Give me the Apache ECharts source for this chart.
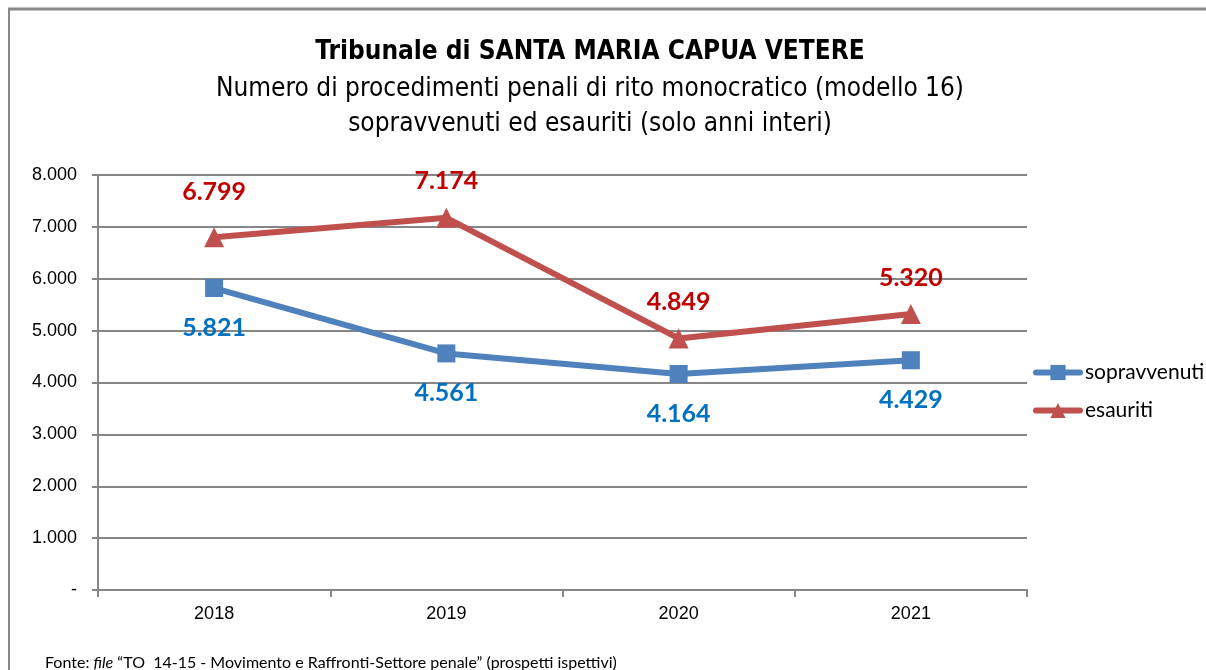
<!DOCTYPE html>
<html>
<head>
<meta charset="utf-8">
<script src="https://cdn.jsdelivr.net/npm/echarts@6/dist/echarts.min.js"></script>
<style>
	html, body { margin: 0; padding: 0; background: #fff; }
	#chart { width: 1206px; height: 670px; }
</style>
</head>
<body>
<div id="chart"></div>
<script>
var years = ['2018', '2019', '2020', '2021'];
var sopravvenuti = [5821, 4561, 4164, 4429];
var esauriti = [6799, 7174, 4849, 5320];
var yTicks = [0, 1000, 2000, 3000, 4000, 5000, 6000, 7000, 8000];

function fmt(v) {
	if (v == 0) {
		return '-';
	}
	return String(v).replace(/\B(?=(\d{3})+(?!\d))/g, '.');
}

var cond = "'DejaVu Sans Condensed', 'Liberation Sans', sans-serif";
var cal = "Lato, 'Open Sans', sans-serif";
var arial = "'Liberation Sans', Arial, sans-serif";
var myChart = echarts.init(document.getElementById('chart'));

var option = {
	backgroundColor: '#fff',
	animation: false,
	title: [{
		text: 'Tribunale di SANTA MARIA CAPUA VETERE',
		left: 585,
		textAlign: 'center',
		top: 34,
		textStyle: { fontFamily: cond, fontSize: 26, fontWeight: 'bold', color: '#000' }
	}, {
		text: 'Numero di procedimenti penali di rito monocratico (modello 16)\nsopravvenuti ed esauriti (solo anni interi)',
		left: 585,
		textAlign: 'center',
		top: 67,
		textStyle: { fontFamily: cond, fontSize: 26, fontWeight: 'normal', color: '#000', lineHeight: 35 }
	}, {
		text: '{n|Fonte: }{i|file}{n| \u201CTO  14-15 - Movimento e Raffronti-Settore penale\u201D (prospetti ispettivi)}',
		left: 40,
		top: 650,
		textStyle: {
			rich: {
				n: { fontFamily: cal, fontSize: 16, fontWeight: 'normal', color: '#000' },
				i: { fontFamily: cal, fontSize: 16, fontWeight: 'normal', fontStyle: 'italic', color: '#000' }
			}
		}
	}],
	graphic: [{
		type: 'line',
		shape: { x1: 8, y1: 9, x2: 1206, y2: 9 },
		style: { stroke: '#888', lineWidth: 3 }
	}, {
		type: 'line',
		shape: { x1: 9, y1: 8, x2: 9, y2: 670 },
		style: { stroke: '#888', lineWidth: 2 }
	}],
	legend: {
		orient: 'vertical',
		left: 1028,
		top: 357,
		itemWidth: 44,
		itemHeight: 19,
		itemGap: 17,
		lineStyle: { width: 6, cap: 'round' },
		textStyle: { fontFamily: cal, fontSize: 21, color: '#000' },
		data: ['sopravvenuti', 'esauriti']
	},
	grid: {
		left: 98,
		right: 179,
		top: 175,
		bottom: 80
	},
	xAxis: {
		type: 'category',
		data: years,
		axisLine: { lineStyle: { color: '#868686', width: 2 } },
		axisTick: { show: true, length: 7, lineStyle: { color: '#868686', width: 2 } },
		axisLabel: { margin: 15, fontFamily: arial, fontSize: 18, color: '#000' }
	},
	yAxis: {
		type: 'value',
		min: 0,
		max: 8000,
		interval: 1000,
		axisLine: { show: true, lineStyle: { color: '#868686', width: 2 } },
		axisTick: { show: true, length: 6, lineStyle: { color: '#868686', width: 2 } },
		splitLine: { lineStyle: { color: '#868686', width: 2 } },
		axisLabel: {
			margin: 21,
			fontFamily: arial,
			fontSize: 18,
			color: '#000',
			formatter: function (v) {
				return yTicks.indexOf(v) >= 0 ? fmt(v) : '';
			}
		}
	},
	series: [{
		name: 'sopravvenuti',
		type: 'line',
		data: sopravvenuti,
		symbol: 'rect',
		symbolSize: 18,
		itemStyle: { color: '#4F81BD' },
		lineStyle: { color: '#4F81BD', width: 6 },
		label: {
			show: true,
			position: 'bottom',
			distance: 18,
			color: '#0070C0',
			fontFamily: cal,
			fontSize: 25,
			fontWeight: 'bold',
			formatter: function (p) { return fmt(p.value); }
		}
	}, {
		name: 'esauriti',
		type: 'line',
		// first label sits a bit higher in the original
		data: esauriti.map(function (v, i) {
			return i === 0 ? { value: v, label: { distance: 23 } } : v;
		}),
		symbol: 'triangle',
		symbolSize: 20,
		itemStyle: { color: '#C0504D' },
		lineStyle: { color: '#C0504D', width: 6 },
		label: {
			show: true,
			position: 'top',
			distance: 14,
			color: '#C00000',
			fontFamily: cal,
			fontSize: 25,
			fontWeight: 'bold',
			formatter: function (p) { return fmt(p.value); }
		}
	}]
};

myChart.setOption(option);
</script>
</body>
</html>
